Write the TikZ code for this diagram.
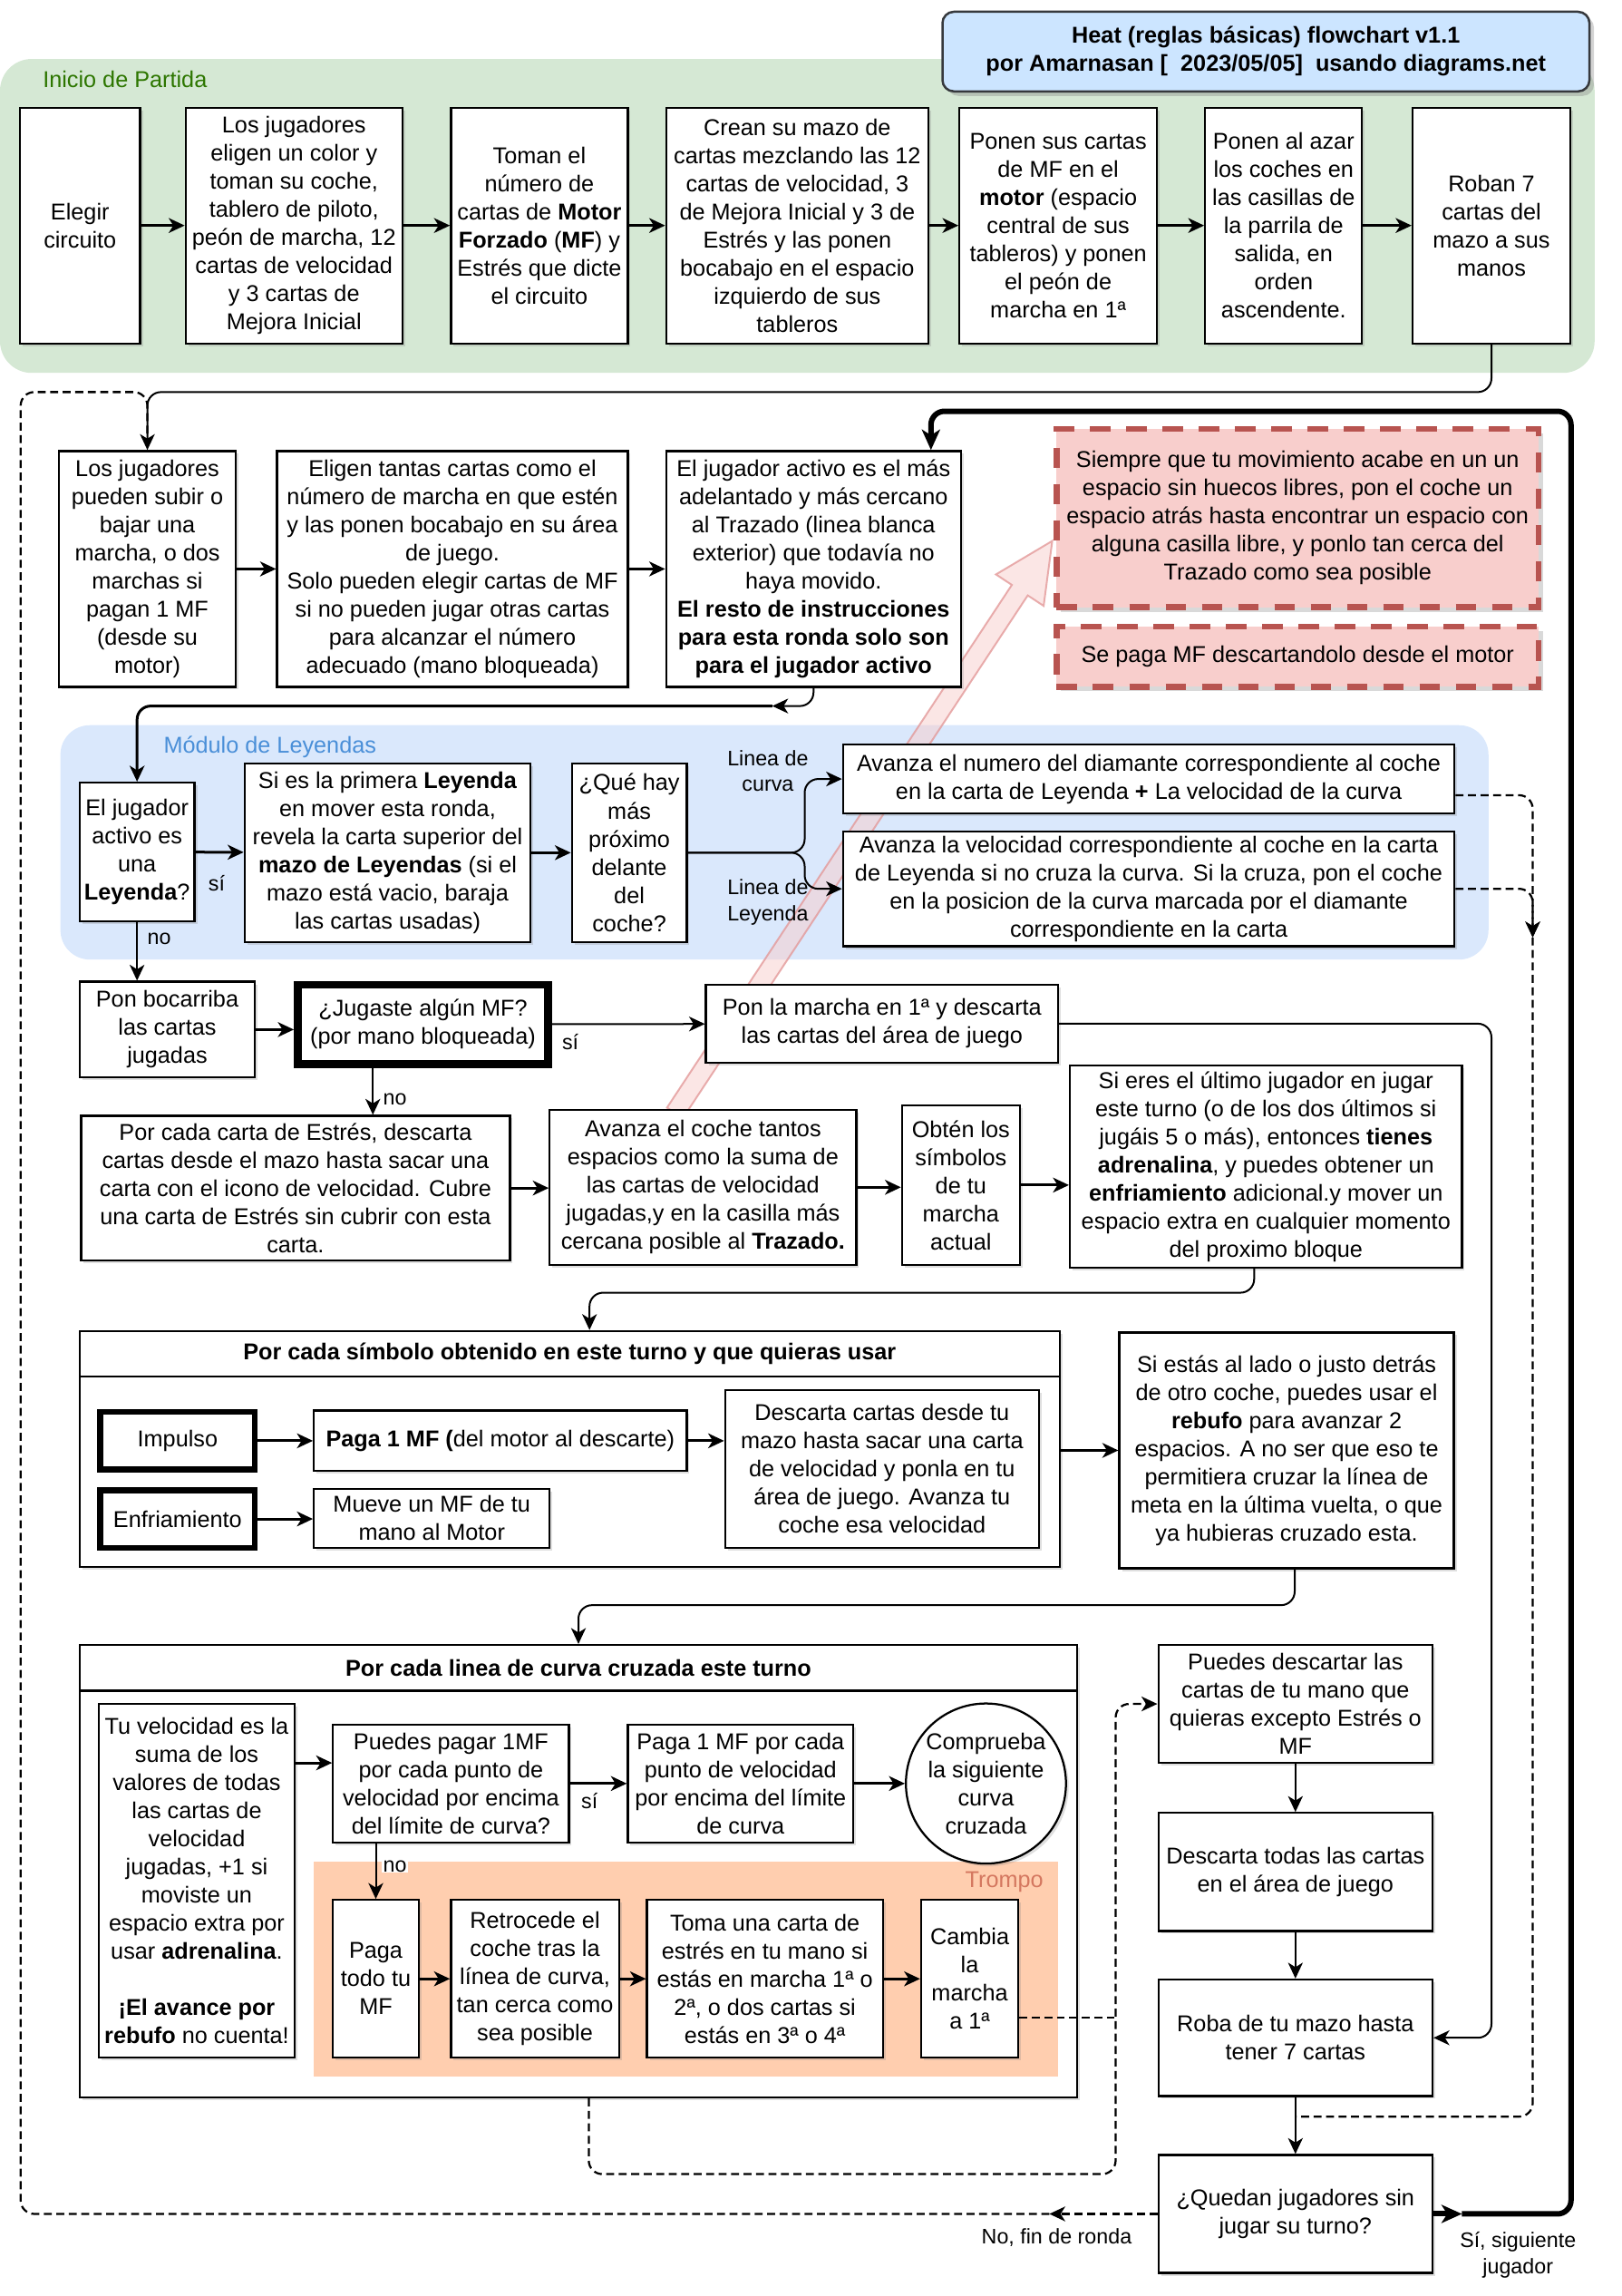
\documentclass[tikz,border=0pt]{standalone}
\usepackage{fontspec}
\setmainfont{Liberation Sans}
\usepackage{tikz}
\usetikzlibrary{arrows.meta,calc,shadows,positioning}

\definecolor{verdefondo}{HTML}{D5E8D4}
\definecolor{verdetexto}{HTML}{2D7600}
\definecolor{azulfondo}{HTML}{DAE8FC}
\definecolor{azultexto}{HTML}{4A8FD8}
\definecolor{titulofondo}{HTML}{CCE5FF}
\definecolor{tituloborde}{HTML}{36393D}
\definecolor{notafondo}{HTML}{F8CECC}
\definecolor{notaborde}{HTML}{B85450}
\definecolor{trompofondo}{HTML}{FFCEAF}
\definecolor{trompotexto}{HTML}{D4775F}
\definecolor{flechaborde}{HTML}{E39A9A}

\begin{document}
\begin{tikzpicture}[x=0.65pt,y=-0.65pt,
    every node/.style={font=\fontsize{10.1}{12.4}\selectfont,align=center,inner sep=0.5pt},
    wh/.style 2 args={minimum width=#1*0.65pt,minimum height=#2*0.65pt},
    caja/.style={draw,fill=white,line width=0.9pt,drop shadow={shadow xshift=1.2pt,shadow yshift=-1.2pt,opacity=0.25}},
    cajagorda/.style={caja,line width=3.4pt},
    simbolo/.style={caja,line width=2.6pt},
    cabecera/.style={draw,line width=0.9pt,font=\fontsize{10.1}{12.4}\selectfont\bfseries},
    nota/.style={draw=notaborde,fill=notafondo,line width=2.6pt,dash pattern=on 9pt off 7pt,drop shadow={shadow xshift=2pt,shadow yshift=-2pt,opacity=0.3}},
    titulobox/.style={draw=tituloborde,fill=titulofondo,line width=1pt,rounded corners=5pt,font=\fontsize{10.1}{12.4}\selectfont\bfseries,drop shadow={shadow xshift=2pt,shadow yshift=-2pt,opacity=0.35}},
    etiqueta/.style={font=\fontsize{9.3}{11.4}\selectfont},
    grupo/.style={font=\fontsize{10.1}{12.4}\selectfont,anchor=west},
    enlace/.style={draw,line width=1.2pt,rounded corners=6pt,-{Stealth[length=7pt,width=6.5pt,inset=2pt]}},
    fino/.style={enlace,line width=0.8pt},
    grueso/.style={enlace,line width=2.4pt,-{Stealth[length=9pt,width=8pt,inset=2.5pt]}},
    puntos/.style={enlace,line width=0.9pt,dash pattern=on 3.5pt off 2pt},
    flechagorda/.style={draw=flechaborde,fill=notafondo,line width=0.8pt,fill opacity=0.5,draw opacity=0.8}
  ]

\useasboundingbox (0,0) rectangle (1100,1557.7);

% fondos
\fill[verdefondo,rounded corners=14pt] (0,40) rectangle (1082,253);
\node[grupo,text=verdetexto] (inicio) at (28,54) {Inicio de Partida};

\fill[azulfondo,rounded corners=13pt] (41,492) rectangle (1010,651);
\node[grupo,text=azultexto] (modulo) at (110,507) {Módulo de Leyendas};

% flecha a la nota
\coordinate (flechaini) at (458,755);
\coordinate (flechafin) at (714,367);
\coordinate (flechabase) at ($(flechafin)!26pt!(flechaini)$);
\filldraw[flechagorda] ($(flechaini)!4.2pt!90:(flechafin)$) -- ($(flechabase)!4.2pt!-90:(flechaini)$) -- ($(flechabase)!12.6pt!-90:(flechaini)$) -- (flechafin) -- ($(flechabase)!12.6pt!90:(flechaini)$) -- ($(flechabase)!4.2pt!90:(flechaini)$) -- ($(flechaini)!4.2pt!-90:(flechafin)$) -- cycle;

\node[titulobox,wh={439}{54}] (titulo) at (859,35) {Heat (reglas básicas) flowchart v1.1\\por Amarnasan [\ \ 2023/05/05]\ \ usando diagrams.net};

% inicio de partida
\node[caja,wh={81.5}{160}] (elegir) at (54.3,153) {Elegir\\circuito};
\node[caja,wh={147}{160}] (jugadores) at (199.5,153) {Los jugadores\\eligen un color y\\toman su coche,\\tablero de piloto,\\peón de marcha, 12\\cartas de velocidad\\y 3 cartas de\\Mejora Inicial};
\node[caja,wh={120}{160}] (toman) at (366,153) {Toman el\\número de\\cartas de \textbf{Motor}\\\textbf{Forzado} (\textbf{MF}) y\\Estrés que dicte\\el circuito};
\node[caja,wh={178}{160}] (crean) at (541,153) {Crean su mazo de\\cartas mezclando las 12\\cartas de velocidad, 3\\de Mejora Inicial y 3 de\\Estrés y las ponen\\bocabajo en el espacio\\izquierdo de sus\\tableros};
\node[caja,wh={134}{160}] (ponenmf) at (718,153) {Ponen sus cartas\\de MF en el\\\textbf{motor} (espacio\\central de sus\\tableros) y ponen\\el peón de\\marcha en 1ª};
\node[caja,wh={106.5}{160}] (azar) at (871,153) {Ponen al azar\\los coches en\\las casillas de\\la parrila de\\salida, en\\orden\\ascendente.};
\node[caja,wh={107}{160}] (roban) at (1012,153) {Roban 7\\cartas del\\mazo a sus\\manos};

\draw[enlace] (elegir) -- (jugadores);
\draw[enlace] (jugadores) -- (toman);
\draw[enlace] (toman) -- (crean);
\draw[enlace] (crean) -- (ponenmf);
\draw[enlace] (ponenmf) -- (azar);
\draw[enlace] (azar) -- (roban);

% ronda
\node[caja,wh={120}{160}] (subir) at (100,386) {Los jugadores\\pueden subir o\\bajar una\\marcha, o dos\\marchas si\\pagan 1 MF\\(desde su\\motor)};
\node[caja,wh={238}{160}] (eligen) at (307,386) {Eligen tantas cartas como el\\número de marcha en que estén\\y las ponen bocabajo en su área\\de juego.\\Solo pueden elegir cartas de MF\\si no pueden jugar otras cartas\\para alcanzar el número\\adecuado (mano bloqueada)};
\node[caja,wh={200}{160}] (activo) at (552,386) {El jugador activo es el más\\adelantado y más cercano\\al Trazado (linea blanca\\exterior) que todavía no\\haya movido.\\\textbf{El resto de instrucciones}\\\textbf{para esta ronda solo son}\\\textbf{para el jugador activo}};

\node[nota,wh={327}{121}] (siempre) at (880.5,351.5) {Siempre que tu movimiento acabe en un un\\espacio sin huecos libres, pon el coche un\\espacio atrás hasta encontrar un espacio con\\alguna casilla libre, y ponlo tan cerca del\\Trazado como sea posible};
\node[nota,wh={327}{41}] (sepaga) at (880.5,445.5) {Se paga MF descartandolo desde el motor};

\draw[enlace] (subir) -- (eligen);
\draw[enlace] (eligen) -- (activo);

% modulo de leyendas
\node[caja,wh={78}{94}] (esleyenda) at (93,578) {El jugador\\activo es\\una\\\textbf{Leyenda}?};
\node[caja,wh={194}{121}] (primera) at (263,578.5) {Si es la primera \textbf{Leyenda}\\en mover esta ronda,\\revela la carta superior del\\\textbf{mazo de Leyendas} (si el\\mazo está vacio, baraja\\las cartas usadas)};
\node[caja,wh={78}{121}] (quehay) at (427,578.5) {¿Qué hay\\más\\próximo\\delante\\del\\coche?};
\node[caja,wh={415}{47}] (diamante) at (779.5,528.5) {Avanza el numero del diamante correspondiente al coche\\en la carta de Leyenda \textbf{+} La velocidad de la curva};
\node[caja,wh={415}{78}] (velleyenda) at (779.5,603) {Avanza la velocidad correspondiente al coche en la carta\\de Leyenda si no cruza la curva. Si la cruza, pon el coche\\en la posicion de la curva marcada por el diamante\\correspondiente en la carta};

\node[etiqueta] (lcurva) at (521,523) {Linea de\\curva};
\node[etiqueta] (lleyenda) at (521,612) {Linea de\\Leyenda};

\coordinate (bifurca) at (546,578.5);
\draw[enlace] (esleyenda) -- (primera);
\node[etiqueta] (si1) at (147,599) {sí};
\draw[enlace] (primera) -- (quehay);
\draw[fino] (quehay.east) -- (bifurca) |- (diamante.west);
\draw[fino] (quehay.east) -- (bifurca) |- (velleyenda.west);

% fin de movimiento
\node[caja,wh={119}{65}] (bocarriba) at (113.5,698.5) {Pon bocarriba\\las cartas\\jugadas};
\node[cajagorda,wh={170}{54}] (jugaste) at (287,695) {¿Jugaste algún MF?\\(por mano bloqueada)};
\node[caja,wh={239}{53}] (marcha1) at (598.5,694.5) {Pon la marcha en 1ª y descarta\\las cartas del área de juego};

\draw[fino] (esleyenda.south) -- (esleyenda.south |- bocarriba.north);
\node[etiqueta] (no1) at (108,637) {no};
\draw[enlace] (bocarriba.east) -- (bocarriba.east -| jugaste.west);
\draw[fino] (jugaste) -- (marcha1);
\node[etiqueta] (si2) at (387,707) {sí};

\node[caja,wh={291}{98}] (estres) at (200.5,806) {Por cada carta de Estrés, descarta\\cartas desde el mazo hasta sacar una\\carta con el icono de velocidad. Cubre\\una carta de Estrés sin cubrir con esta\\carta.};
\node[caja,wh={208}{105}] (avanza) at (477,805.5) {Avanza el coche tantos\\espacios como la suma de\\las cartas de velocidad\\jugadas,y en la casilla más\\cercana posible al \textbf{Trazado.}};
\node[caja,wh={80}{108}] (obten) at (652,804) {Obtén los\\símbolos\\de tu\\marcha\\actual};
\node[caja,wh={266}{137}] (ultimo) at (859,791.5) {Si eres el último jugador en jugar\\este turno (o de los dos últimos si\\jugáis 5 o más), entonces \textbf{tienes}\\\textbf{adrenalina}, y puedes obtener un\\\textbf{enfriamiento} adicional.y mover un\\espacio extra en cualquier momento\\del proximo bloque};

\coordinate (jugno) at ($(jugaste.south)+(-34,0)$);
\draw[fino] (jugno) -- (jugno |- estres.north);
\node[etiqueta] (no2) at (268,746) {no};
\draw[enlace] (estres.east) -- (estres.east -| avanza.west);
\draw[enlace] (avanza.east) -- (avanza.east -| obten.west);
\draw[enlace] (obten.east) -- (obten.east -| ultimo.west);

% simbolos
\node[caja,wh={665}{160}] (simbolos) at (386.5,983) {};
\node[cabecera,wh={665}{31}] (simbhead) at (386.5,918.5) {Por cada símbolo obtenido en este turno y que quieras usar};
\node[simbolo,wh={105}{39}] (impulso) at (120.5,977.5) {Impulso};
\node[simbolo,wh={105}{39}] (enfria) at (120.5,1030.5) {Enfriamiento};
\node[caja,wh={253}{41}] (pagamf) at (339.5,977.5) {\textbf{Paga 1 MF (}del motor al descarte)};
\node[caja,wh={160}{40}] (mueve) at (293,1030) {Mueve un MF de tu\\mano al Motor};
\node[caja,wh={213}{107}] (descarta) at (598.5,996.5) {Descarta cartas desde tu\\mazo hasta sacar una carta\\de velocidad y ponla en tu\\área de juego. Avanza tu\\coche esa velocidad};
\node[caja,wh={227}{160}] (rebufo) at (873,984) {Si estás al lado o justo detrás\\de otro coche, puedes usar el\\\textbf{rebufo} para avanzar 2\\espacios. A no ser que eso te\\permitiera cruzar la línea de\\meta en la última vuelta, o que\\ya hubieras cruzado esta.};

\draw[enlace] (impulso) -- (pagamf);
\draw[enlace] (enfria.east) -- (enfria.east -| mueve.west);
\draw[enlace] (pagamf.east) -- (pagamf.east -| descarta.west);
\draw[enlace] (simbolos.east |- rebufo.west) -- (rebufo.west);

\coordinate (ultbaja) at (600,877);
\draw[fino] ($(ultimo.south)+(-8,0)$) |- (ultbaja) -| ($(simbhead.north)+(13.5,0)$);

% curvas
\node[caja,wh={677}{307}] (curvas) at (392.5,1269.5) {};
\node[cabecera,wh={677}{31}] (curvhead) at (392.5,1131.5) {Por cada linea de curva cruzada este turno};
\fill[trompofondo] (213,1263) rectangle (718,1409);
\node[grupo,anchor=east,text=trompotexto] (trompo) at (709,1277) {Trompo};

\node[caja,wh={133}{240}] (tuvel) at (133.5,1276) {Tu velocidad es la\\suma de los\\valores de todas\\las cartas de\\velocidad\\jugadas, +1 si\\moviste un\\espacio extra por\\usar \textbf{adrenalina}.\\[12.4pt]\textbf{¡El avance por}\\\textbf{rebufo} no cuenta!};
\node[caja,wh={160}{80}] (puedes) at (306,1210) {Puedes pagar 1MF\\por cada punto de\\velocidad por encima\\del límite de curva?};
\node[caja,wh={153}{80}] (pagapunto) at (502.5,1210) {Paga 1 MF por cada\\punto de velocidad\\por encima del límite\\de curva};
\node[caja,circle,minimum size=98*0.65pt] (comprueba) at (669,1210) {Comprueba\\la siguiente\\curva\\cruzada};
\node[caja,wh={58}{107}] (pagatodo) at (255,1342.5) {Paga\\todo tu\\MF};
\node[caja,wh={114}{107}] (retrocede) at (363,1342.5) {Retrocede el\\coche tras la\\línea de curva,\\tan cerca como\\sea posible};
\node[caja,wh={160}{107}] (toma) at (519,1342.5) {Toma una carta de\\estrés en tu mano si\\estás en marcha 1ª o\\2ª, o dos cartas si\\estás en 3ª o 4ª};
\node[caja,wh={66}{107}] (cambia) at (658,1342.5) {Cambia\\la\\marcha\\a 1ª};

\coordinate (tuvelout) at ($(tuvel.east)+(0,-80)$);
\draw[enlace] (tuvelout) -- (tuvelout -| puedes.west);
\draw[enlace] (puedes) -- (pagapunto);
\node[etiqueta] (si3) at (400,1222) {sí};
\draw[enlace] (pagapunto) -- (comprueba);
\draw[fino] (pagatodo.north |- puedes.south) -- (pagatodo.north);
\node[etiqueta,fill=white] (no3) at (268,1266) {no};
\draw[enlace] (pagatodo) -- (retrocede);
\draw[enlace] (retrocede) -- (toma);
\draw[enlace] (toma) -- (cambia);

\coordinate (rebbaja) at (600,1089);
\draw[fino] ($(rebufo.south)+(5.5,0)$) |- (rebbaja) -| (curvhead.north);

% fin de turno
\node[caja,wh={186}{80}] (descmano) at (879,1156) {Puedes descartar las\\cartas de tu mano que\\quieras excepto Estrés o\\MF};
\node[caja,wh={186}{80}] (descarea) at (879,1270) {Descarta todas las cartas\\en el área de juego};
\node[caja,wh={186}{79}] (roba) at (879,1382.5) {Roba de tu mazo hasta\\tener 7 cartas};
\node[caja,wh={186}{80}] (quedan) at (879,1502) {¿Quedan jugadores sin\\jugar su turno?};

\draw[fino] (descmano) -- (descarea);
\draw[fino] (descarea) -- (roba);
\draw[fino] (roba) -- (quedan);

\coordinate (trompobaja) at (757,1475);
\coordinate (cambiaout) at ($(cambia.east)+(0,26.5)$);
\draw[puntos] ($(curvas.south)+(7,0)$) |- (trompobaja) |- (descmano.west);
\draw[puntos,-] (cambiaout) -- (cambiaout -| trompobaja);

\coordinate (marchader) at (1012,1000);
\draw[fino] (marcha1.east) -| (marchader) |- (roba.east);

\coordinate (leyfin) at (524,479);
\draw[fino] (activo.south) |- (leyfin);
\draw[enlace] (leyfin) -| (esleyenda.north);

\coordinate (leymedio) at (1040,636);
\coordinate (leyjunta) at (879,1436);
\draw[puntos] ($(diamante.east)+(0,11)$) -| (leymedio);
\draw[puntos] (velleyenda.east) -| (leymedio);
\draw[puntos,-] (leymedio) |- (leyjunta);

% vueltas
\coordinate (robaarriba) at (500,266);
\draw[fino] (roban.south) |- (robaarriba) -| (subir.north);

\coordinate (nofin) at (712,1502);
\coordinate (izqarriba) at (14,266);
\draw[puntos] (quedan.west) -- (nofin);
\draw[puntos,-] (nofin) -| (izqarriba) -| (subir.north);
\node[etiqueta] (finronda) at (717,1518) {No, fin de ronda};

\coordinate (sifin) at (992,1502);
\coordinate (derarriba) at (1066,279);
\draw[grueso] (quedan.east) -- (sifin);
\draw[grueso] (sifin) -| (derarriba) -| ($(activo.north east)+(-21,0)$);
\node[etiqueta] (siguiente) at (1030,1530) {Sí, siguiente\\jugador};

\end{tikzpicture}
\end{document}
